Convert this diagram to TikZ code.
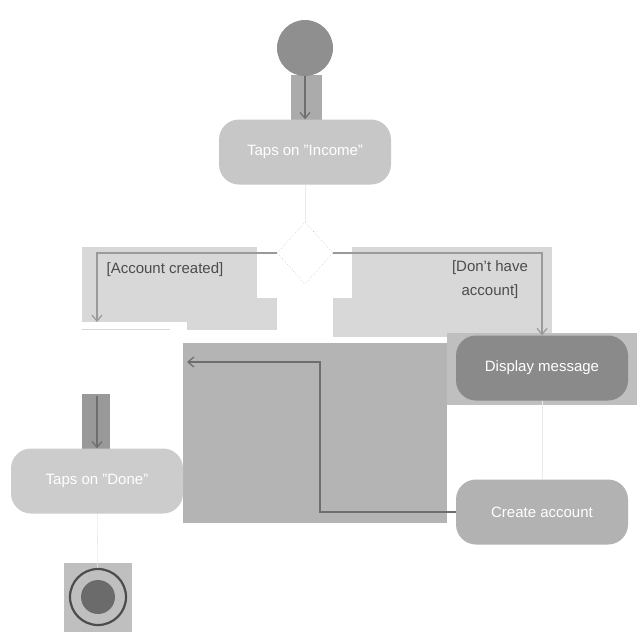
\documentclass[tikz,border=0pt]{standalone}
\usepackage{fontspec}
\setmainfont{Liberation Sans}
\usetikzlibrary{shapes.geometric,arrows.meta}
\definecolor{bandgray}{HTML}{D8D8D8}
\definecolor{blockgray}{HTML}{B4B4B4}
\definecolor{linegray}{HTML}{9A9A9A}
\definecolor{darkline}{HTML}{6E6E6E}
\tikzset{
  action/.style={rounded corners=20pt, minimum width=172pt, minimum height=65pt, text=white, font=\fontsize{15}{17}\selectfont, inner sep=0pt},
  flow/.style={draw=linegray, line width=2.5pt, -{Straight Barb[length=6pt,width=10pt,line width=1.2pt]}},
  darkflow/.style={draw=darkline, line width=2pt, -{Straight Barb[length=6pt,width=10pt,line width=1.2pt]}},
  faint/.style={draw=black!8, line width=0.6pt},
  guard/.style={text=black!70, font=\fontsize{15}{24}\selectfont},
}
\begin{document}
\begin{tikzpicture}[x=1pt,y=-1pt]
\useasboundingbox (0,0) rectangle (640,640);
\fill[white] (0,0) rectangle (640,640);
% background patches
\fill[bandgray] (82,247) rectangle (187,322);
\fill[bandgray] (187,247) rectangle (277,330);
\fill[bandgray] (277,247) rectangle (333,298);
\fill[bandgray] (333,247) rectangle (552,337);
\fill[white] (257,213) rectangle (352,298);
\fill[blockgray] (183,343) rectangle (447,523);
\fill[black!25] (447,333) rectangle (637,405);
\fill[black!33] (291,75) rectangle (322,122);
\fill[black!40] (82,394) rectangle (110,455);
\fill[black!25] (64,563) rectangle (132,632);
\draw[black!15, line width=1pt] (82,329) -- (170,329);
% nodes
\node[circle, fill=black!44, minimum size=56pt, inner sep=0pt] (start) at (305,48) {};
\node[action, fill=black!22] (income) at (305,152) {Taps on "Income"};
\node[diamond, draw=linegray, dotted, fill=white, minimum width=56pt, minimum height=62pt, inner sep=0pt] (dec) at (305,253) {};
\node[action, fill=black!46] (msg) at (542,368) {Display message};
\node[action, fill=black!30] (create) at (542,512) {Create account};
\node[action, fill=black!20] (done) at (97,481) {Taps on "Done"};
\node[circle, draw=black!70, line width=2.2pt, fill=black!25, minimum size=56pt, inner sep=0pt] (final) at (98,597) {};
\node[circle, fill=black!58, minimum size=34pt, inner sep=0pt] (finalin) at (98,597) {};
\coordinate (merge) at (97,322);
\coordinate (mergeout) at (97,396);
\coordinate (back) at (187,362);
\coordinate (bend) at (320,512);
% connectors
\draw[darkflow] (start) -- (income);
\draw[faint] (income) -- (dec);
\draw[flow] (dec.west) -| (merge);
\draw[flow] (dec.east) -| (msg.north);
\draw[faint] (msg) -- (create);
\draw[darkflow] (create.west) -- (bend) |- (back);
\draw[darkflow] (mergeout) -- (done);
\draw[faint] (done) -- (final);
% guards
\node[guard] (g1) at (165,270) {[Account created]};
\node[guard, align=center] (g2) at (490,280) {[Don't have\\account]};
\end{tikzpicture}
\end{document}
